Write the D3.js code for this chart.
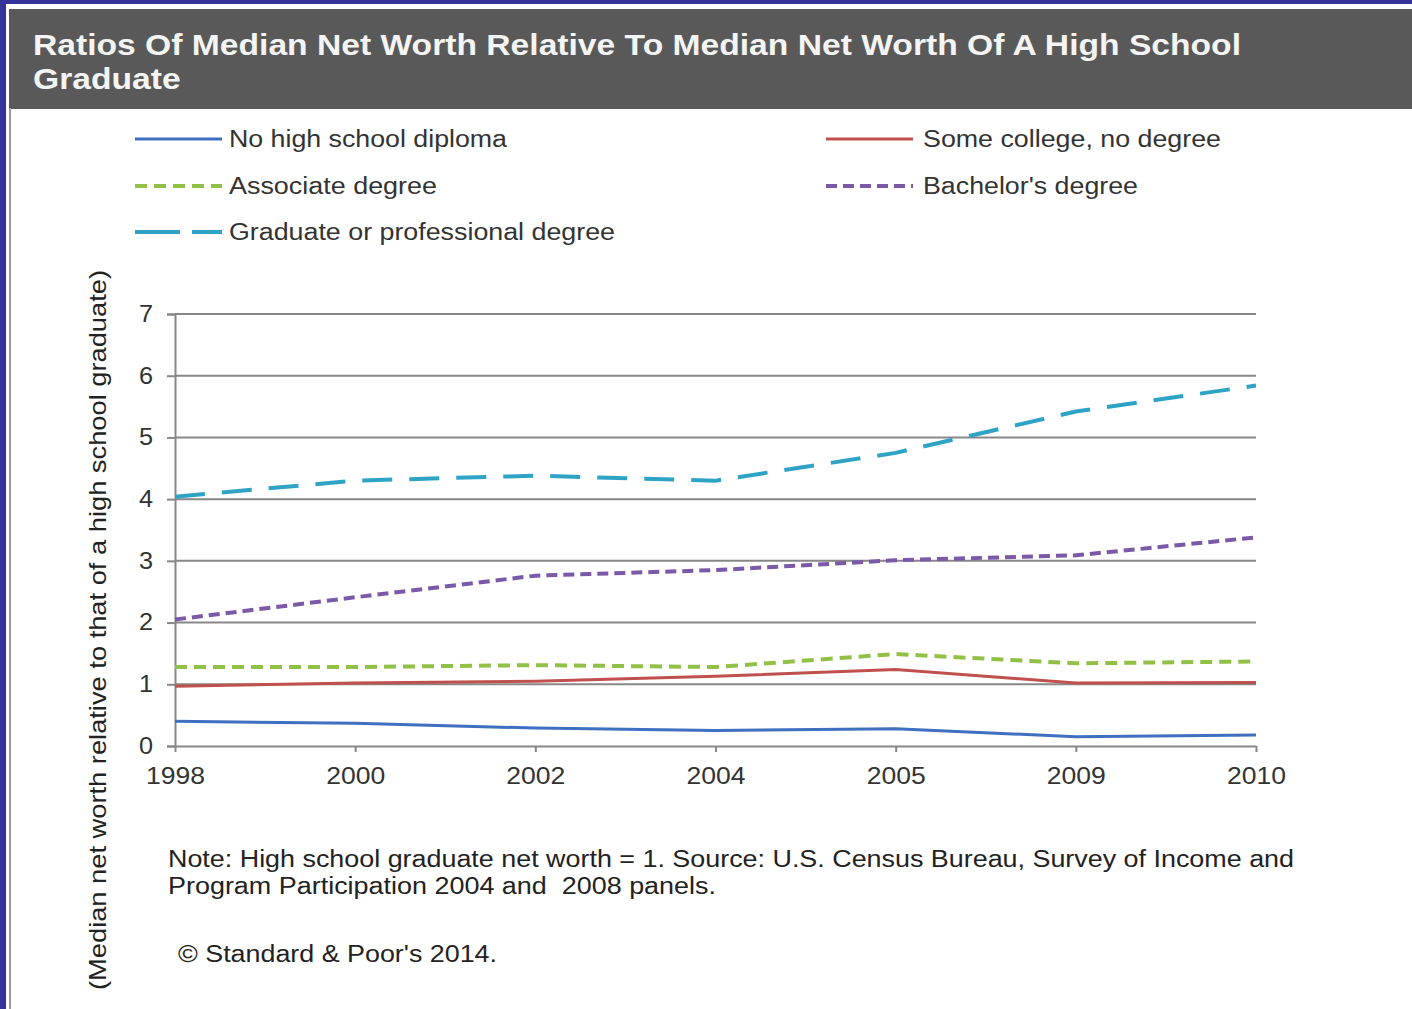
<!DOCTYPE html>
<html><head><meta charset="utf-8">
<script src="https://cdn.jsdelivr.net/npm/d3@7/dist/d3.min.js"></script>
<style>html,body{margin:0;padding:0;background:#fff;}svg{display:block;}</style>
</head><body>
<script>
const years = ["1998","2000","2002","2004","2005","2009","2010"];
const noHighSchool = [0.40,0.37,0.29,0.25,0.28,0.15,0.18];
const someCollege = [0.97,1.02,1.05,1.13,1.24,1.02,1.03];
const associate = [1.28,1.28,1.31,1.28,1.49,1.34,1.37];
const bachelor = [2.05,2.41,2.76,2.85,3.01,3.09,3.38];
const graduate = [4.04,4.30,4.38,4.30,4.75,5.42,5.84];
const yTicks = [0,1,2,3,4,5,6,7];
const seriesNames = ["No high school diploma","Some college, no degree","Associate degree","Bachelor's degree","Graduate or professional degree"];

const W=1412,H=1009;
const FONT="Arial, Liberation Sans, sans-serif";
const svg=d3.select("body").append("svg").attr("width",W).attr("height",H);
function stretch(sel,factor){
  sel.each(function(){
    const w=this.getComputedTextLength();
    this.setAttribute("textLength",w*factor);
    this.setAttribute("lengthAdjust","spacingAndGlyphs");
  });
}
function fitTo(sel,target){
  sel.each(function(){
    this.setAttribute("textLength",target);
    this.setAttribute("lengthAdjust","spacingAndGlyphs");
  });
}
// borders
svg.append("rect").attr("x",0).attr("y",0).attr("width",W).attr("height",H).attr("fill","#fff");
svg.append("rect").attr("x",0).attr("y",0).attr("width",W).attr("height",4).attr("fill","#333399");
svg.append("rect").attr("x",0).attr("y",0).attr("width",6).attr("height",H).attr("fill","#333399");
svg.append("rect").attr("x",9).attr("y",9).attr("width",W-9).attr("height",100).attr("fill","#595959");
svg.append("line").attr("x1",10).attr("x2",10).attr("y1",108).attr("y2",H).attr("stroke","#9a9a9a").attr("stroke-width",2);

const t1=svg.append("text").attr("x",33).attr("y",55).attr("fill","#f4f4f4").attr("font-family",FONT)
  .attr("font-weight","bold").attr("font-size",30).text("Ratios Of Median Net Worth Relative To Median Net Worth Of A High School");
const tw=t1.node().getComputedTextLength();
const tf=1208/tw;
fitTo(t1,1208);
const t2=svg.append("text").attr("x",33).attr("y",89).attr("fill","#f4f4f4").attr("font-family",FONT)
  .attr("font-weight","bold").attr("font-size",30).text("Graduate");
stretch(t2,tf);

const x=d3.scalePoint().domain(years).range([175,1256]);
const y=d3.scaleLinear().domain([0,7]).range([746,314]);

// gridlines
svg.append("g").selectAll("line").data(yTicks.slice(1)).join("line")
  .attr("x1",175).attr("x2",1256).attr("y1",d=>y(d)).attr("y2",d=>y(d))
  .attr("stroke","#878787").attr("stroke-width",2);

const yAxis=svg.append("g").attr("transform","translate(175,0)")
  .call(d3.axisLeft(y).tickValues(yTicks).tickSize(8).tickPadding(14).tickFormat(d3.format("d")));
yAxis.select(".domain").attr("stroke","#878787").attr("stroke-width",2);
yAxis.selectAll(".tick line").attr("stroke","#878787").attr("stroke-width",2);
yAxis.selectAll("text").attr("font-family",FONT).attr("font-size",23).attr("fill","#333");
stretch(yAxis.selectAll("text"),1.1);

const xAxis=svg.append("g").attr("transform","translate(0,746)")
  .call(d3.axisBottom(x).tickSize(6).tickPadding(16).tickSizeOuter(0));
xAxis.select(".domain").attr("stroke","#878787").attr("stroke-width",2);
xAxis.selectAll(".tick line").attr("stroke","#878787").attr("stroke-width",2);
xAxis.selectAll("text").attr("font-family",FONT).attr("font-size",23).attr("fill","#333");
fitTo(xAxis.selectAll("text"),59);

const styles=[
  {c:"#3e6fc1",d:null,w:3},
  {c:"#c0504d",d:null,w:3},
  {c:"#92c047",d:"12,7",w:4},
  {c:"#7a59a8",d:"11,6",w:4},
  {c:"#2ea3c6",d:"30,17",w:4}
];
const allData=[noHighSchool,someCollege,associate,bachelor,graduate];
const line=d3.line().x((d,i)=>x(years[i])).y(d=>y(d));
allData.forEach((arr,k)=>{
  svg.append("path").datum(arr).attr("d",line).attr("fill","none")
    .attr("stroke",styles[k].c).attr("stroke-width",styles[k].w)
    .attr("stroke-dasharray",styles[k].d);
});

// legend
const legPos=[[135,139],[826,139],[135,186],[826,186],[135,232]];
const legW=[278,298,208,215,386];
seriesNames.forEach((n,k)=>{
  const [lx,ly]=legPos[k];
  svg.append("line").attr("x1",lx).attr("x2",lx+87).attr("y1",ly).attr("y2",ly)
    .attr("stroke",styles[k].c).attr("stroke-width",styles[k].w)
    .attr("stroke-dasharray",k===4?"45,12":styles[k].d);
  const t=svg.append("text").attr("x",lx+94+(k%2?3:0)).attr("y",ly+8).text(n)
    .attr("font-family",FONT).attr("font-size",23).attr("fill","#333");
  fitTo(t,legW[k]);
});

// y axis title
const yt=svg.append("text").attr("transform","translate(106,630) rotate(-90)").attr("text-anchor","middle")
  .attr("font-family",FONT).attr("font-size",24).attr("fill","#222")
  .text("(Median net worth relative to that of a high school graduate)");
fitTo(yt,720);

const n1=svg.append("text").attr("x",168).attr("y",867).attr("font-family",FONT).attr("font-size",23).attr("fill","#222")
  .text("Note: High school graduate net worth = 1. Source: U.S. Census Bureau, Survey of Income and");
fitTo(n1,1126);
const n2=svg.append("text").attr("x",168).attr("y",894).attr("font-family",FONT).attr("font-size",23).attr("fill","#222")
  .style("white-space","pre").text("Program Participation 2004 and  2008 panels.");
fitTo(n2,548);
const c=svg.append("text").attr("x",178).attr("y",962).attr("font-family",FONT).attr("font-size",23).attr("fill","#222")
  .text("© Standard & Poor's 2014.");
fitTo(c,319);
</script>
</body></html>
